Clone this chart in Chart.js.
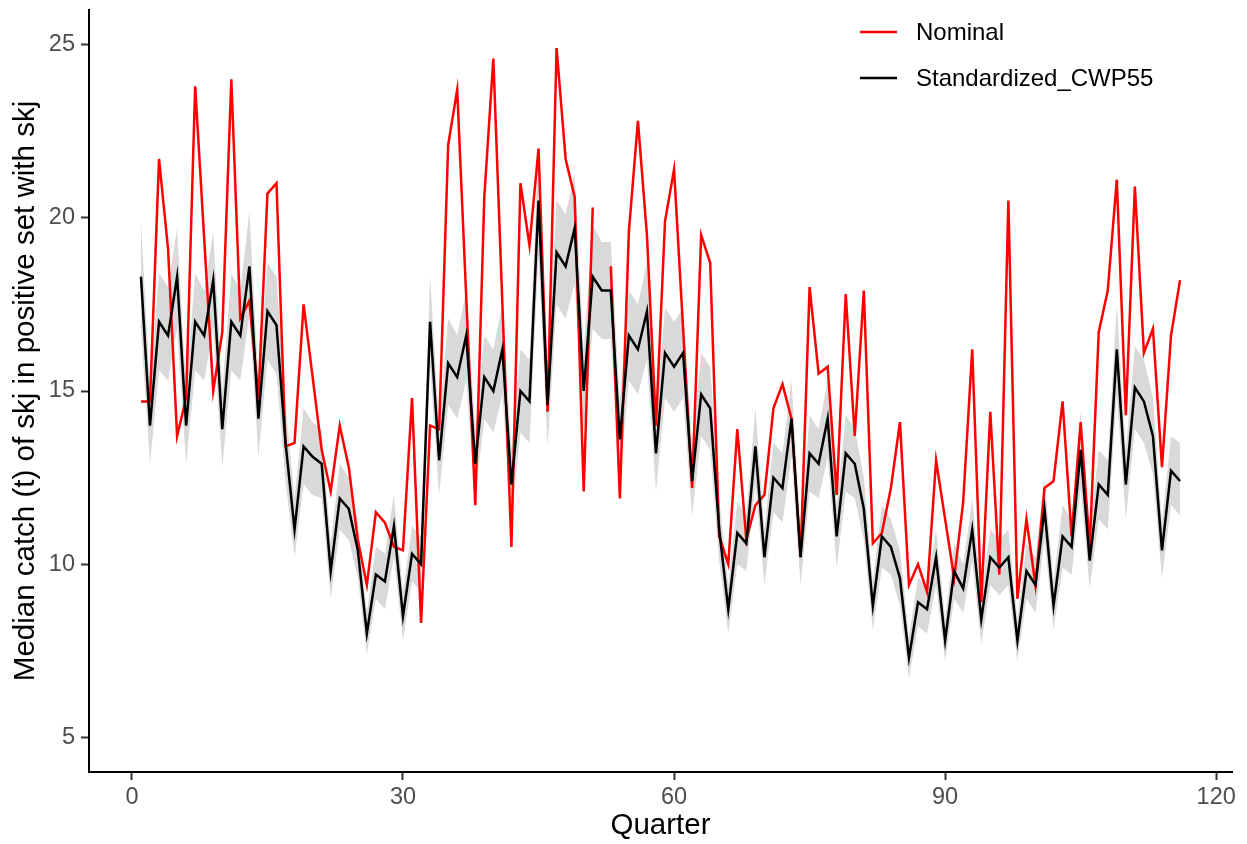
<!DOCTYPE html>
<html>
<head>
<meta charset="utf-8">
<script src="https://cdn.jsdelivr.net/npm/chart.js@4.4.1/dist/chart.umd.min.js"></script>
<style>
  html, body { margin: 0; padding: 0; background: #ffffff; }
  #wrap { width: 1247px; height: 844px; }
</style>
</head>
<body>
<div id="wrap"><canvas id="grafica" width="1247" height="844"></canvas></div>
<script>
// Quarter index (x)
const quarters = [
  1, 2, 3, 4, 5, 6, 7, 8, 9, 10, 11, 12, 13, 14, 15, 16, 17, 18, 19, 20,
  21, 22, 23, 24, 25, 26, 27, 28, 29, 30, 31, 32, 33, 34, 35, 36, 37, 38, 39, 40,
  41, 42, 43, 44, 45, 46, 47, 48, 49, 50, 51, 52, 53, 54, 55, 56, 57, 58, 59, 60,
  61, 62, 63, 64, 65, 66, 67, 68, 69, 70, 71, 72, 73, 74, 75, 76, 77, 78, 79, 80,
  81, 82, 83, 84, 85, 86, 87, 88, 89, 90, 91, 92, 93, 94, 95, 96, 97, 98, 99, 100,
  101, 102, 103, 104, 105, 106, 107, 108, 109, 110, 111, 112, 113, 114, 115, 116
];

// Nominal median catch (red), q52 missing
const nominal = [
  14.7, 14.7, 21.7, 19.1, 13.7, 14.8, 23.8, 19.4, 15.0, 16.7,
  24.0, 17.1, 17.6, 14.8, 20.7, 21.0, 13.4, 13.5, 17.5, 15.4,
  13.3, 12.1, 14.0, 12.8, 10.7, 9.4, 11.5, 11.2, 10.5, 10.4,
  14.8, 8.3, 14.0, 13.9, 22.1, 23.7, 17.7, 11.7, 20.6, 24.6,
  17.5, 10.5, 21.0, 19.2, 22.0, 14.4, 24.9, 21.7, 20.6, 12.1,
  20.3, null, 18.6, 11.9, 19.6, 22.8, 19.5, 14.0, 19.9, 21.4,
  16.8, 12.2, 19.5, 18.7, 10.8, 10.0, 13.9, 10.7, 11.7, 12.0,
  14.5, 15.2, 14.2, 10.2, 18.0, 15.5, 15.7, 12.0, 17.8, 13.7,
  17.9, 10.6, 10.9, 12.2, 14.1, 9.4, 10.0, 9.2, 13.0, 11.3,
  9.6, 11.8, 16.2, 8.9, 14.4, 9.7, 20.5, 9.0, 11.3, 9.4,
  12.2, 12.4, 14.7, 10.8, 14.1, 10.5, 16.7, 17.9, 21.1, 14.3,
  20.9, 16.1, 16.8, 12.8, 16.6, 18.2
];

// Standardized_CWP55 (black)
const standardized = [
  18.3, 14.0, 17.0, 16.6, 18.3, 14.0, 17.0, 16.6, 18.2, 13.9,
  17.0, 16.6, 18.6, 14.2, 17.3, 16.9, 13.5, 11.0, 13.4, 13.1,
  12.9, 9.8, 11.9, 11.6, 10.4, 8.0, 9.7, 9.5, 11.1, 8.5,
  10.3, 10.0, 17.0, 13.0, 15.8, 15.4, 16.6, 12.9, 15.4, 15.0,
  16.2, 12.3, 15.0, 14.7, 20.5, 14.6, 19.0, 18.6, 19.7, 15.0,
  18.3, 17.9, 17.9, 13.6, 16.6, 16.2, 17.3, 13.2, 16.1, 15.7,
  16.1, 12.4, 14.9, 14.5, 11.0, 8.7, 10.9, 10.6, 13.4, 10.2,
  12.5, 12.2, 14.2, 10.2, 13.2, 12.9, 14.2, 10.8, 13.2, 12.9,
  11.6, 8.8, 10.8, 10.5, 9.6, 7.3, 8.9, 8.7, 10.2, 7.8,
  9.8, 9.3, 11.0, 8.4, 10.2, 9.9, 10.2, 7.8, 9.8, 9.4,
  11.6, 8.8, 10.8, 10.5, 13.3, 10.1, 12.3, 12.0, 16.2, 12.3,
  15.1, 14.7, 13.7, 10.4, 12.7, 12.4
];

// grey band around the standardized series
const ciLower = [
  16.8, 12.9, 15.6, 15.3, 16.8, 12.9, 15.6, 15.3, 16.8, 12.8,
  15.6, 15.3, 17.2, 13.1, 15.9, 15.5, 12.4, 10.2, 12.3, 12.0,
  11.9, 9.0, 11.0, 10.7, 9.6, 7.4, 9.0, 8.7, 10.2, 7.8,
  9.5, 9.2, 15.7, 12.0, 14.6, 14.2, 15.3, 11.9, 14.2, 13.8,
  14.9, 11.3, 13.8, 13.5, 18.9, 13.4, 17.5, 17.1, 18.1, 13.8,
  16.8, 16.5, 16.5, 12.5, 15.3, 14.9, 15.9, 12.1, 14.8, 14.4,
  14.8, 11.4, 13.7, 13.3, 10.1, 8.0, 10.0, 9.8, 12.3, 9.4,
  11.5, 11.2, 13.1, 9.4, 12.1, 11.9, 13.1, 9.9, 12.1, 11.9,
  10.7, 8.1, 9.9, 9.7, 8.8, 6.7, 8.2, 8.0, 9.4, 7.2,
  9.0, 8.6, 10.1, 7.7, 9.4, 9.1, 9.4, 7.2, 9.0, 8.6,
  10.7, 8.1, 9.9, 9.7, 12.2, 9.3, 11.3, 11.0, 14.9, 11.3,
  13.9, 13.5, 12.6, 9.6, 11.7, 11.4
];
const ciUpper = [
  19.9, 15.1, 18.4, 18.0, 19.7, 15.1, 18.4, 17.9, 19.6, 15.0,
  18.4, 17.9, 20.2, 15.3, 18.7, 18.3, 14.6, 11.9, 14.5, 14.1,
  13.9, 10.6, 12.9, 12.5, 11.2, 8.6, 10.5, 10.3, 12.0, 9.2,
  11.1, 10.8, 18.3, 14.0, 17.1, 16.6, 17.9, 13.9, 16.6, 16.2,
  17.5, 13.3, 16.2, 15.9, 22.1, 15.8, 20.5, 20.1, 21.3, 16.2,
  19.8, 19.3, 19.3, 14.7, 17.9, 17.5, 18.7, 14.3, 17.4, 17.0,
  17.4, 13.4, 16.1, 15.7, 11.9, 9.4, 11.8, 11.4, 14.5, 11.0,
  13.5, 13.2, 15.3, 11.0, 14.3, 13.9, 15.3, 11.7, 14.3, 13.9,
  12.5, 9.5, 11.7, 11.3, 10.4, 7.9, 9.6, 9.4, 11.0, 8.4,
  10.6, 10.0, 11.9, 9.1, 11.0, 10.7, 11.0, 8.4, 10.6, 10.2,
  12.5, 9.5, 11.7, 11.3, 14.4, 10.9, 13.3, 13.0, 17.5, 13.3,
  16.3, 15.9, 14.8, 11.2, 13.7, 13.5
];

const xTicks = [0, 30, 60, 90, 120];
const yTicks = [5, 10, 15, 20, 25];

const FONT = '"Liberation Sans", Arial, Helvetica, sans-serif';

function pts(values) {
  return quarters.map((q, i) => ({ x: q, y: values[i] }));
}

// legend drawn inside the panel, top right (like ggplot)
const leyenda = {
  id: 'leyenda',
  afterDraw(chart) {
    const ctx = chart.ctx;
    const items = chart.data.datasets.filter(d => d.enLeyenda).sort((a, b) => a.enLeyenda - b.enLeyenda);
    ctx.save();
    ctx.font = '24px ' + FONT;
    ctx.textBaseline = 'middle';
    ctx.textAlign = 'left';
    items.forEach((d, i) => {
      const y = 32 + i * 46;
      ctx.strokeStyle = d.borderColor;
      ctx.lineWidth = 2.5;
      ctx.beginPath();
      ctx.moveTo(860, y);
      ctx.lineTo(897, y);
      ctx.stroke();
      ctx.fillStyle = '#000000';
      ctx.fillText(d.label, 916, y + 1);
    });
    ctx.restore();
  }
};

let ctx = document.getElementById('grafica').getContext('2d');
new Chart(ctx, {
  type: 'line',
  data: {
    datasets: [
      {
        label: 'lower',
        data: pts(ciLower),
        borderColor: 'rgba(0,0,0,0)',
        borderWidth: 0,
        pointRadius: 0,
        fill: false,
        order: 4
      },
      {
        label: 'upper',
        data: pts(ciUpper),
        borderColor: 'rgba(0,0,0,0)',
        borderWidth: 0,
        pointRadius: 0,
        backgroundColor: '#d9d9d9',
        fill: '-1',
        order: 3
      },
      {
        label: 'Nominal',
        data: pts(nominal),
        borderColor: '#ff0000',
        borderWidth: 2.5,
        pointRadius: 0,
        fill: false,
        order: 2,
        enLeyenda: 1
      },
      {
        label: 'Standardized_CWP55',
        data: pts(standardized),
        borderColor: '#000000',
        borderWidth: 2.5,
        pointRadius: 0,
        fill: false,
        order: 1,
        enLeyenda: 2
      }
    ]
  },
  options: {
    responsive: false,
    animation: false,
    devicePixelRatio: 1,
    layout: { padding: { top: 10, right: 15, left: 0, bottom: 0 } },
    plugins: {
      legend: { display: false },
      tooltip: { enabled: false }
    },
    scales: {
      x: {
        type: 'linear',
        min: -4.75,
        max: 121.75,
        afterBuildTicks: s => { s.ticks = xTicks.map(v => ({ value: v })); },
        afterFit: s => { s.height = 72; s.paddingLeft = 0; s.paddingRight = 0; },
        grid: { drawOnChartArea: false, tickLength: 8, tickColor: '#333333', tickWidth: 2 },
        border: { color: '#000000', width: 2 },
        ticks: { autoSkip: false, maxRotation: 0, padding: 3, color: '#4d4d4d', font: { family: FONT, size: 23.5 } },
        title: { display: true, text: 'Quarter', color: '#000000', padding: { top: 0, bottom: 0 }, font: { family: FONT, size: 29.5 } }
      },
      y: {
        min: 4,
        max: 26,
        afterBuildTicks: s => { s.ticks = yTicks.map(v => ({ value: v })); },
        afterFit: s => { s.width = 89; s.paddingTop = 0; s.paddingBottom = 0; },
        grid: { drawOnChartArea: false, tickLength: 8, tickColor: '#333333', tickWidth: 2 },
        border: { color: '#000000', width: 2 },
        ticks: { autoSkip: false, padding: 6, color: '#4d4d4d', font: { family: FONT, size: 23.5 } },
        title: { display: true, text: 'Median catch (t) of skj in positive set with skj', color: '#000000', padding: { top: 8, bottom: 0 }, font: { family: FONT, size: 29.5 } }
      }
    }
  },
  plugins: [leyenda]
});
</script>
</body>
</html>
